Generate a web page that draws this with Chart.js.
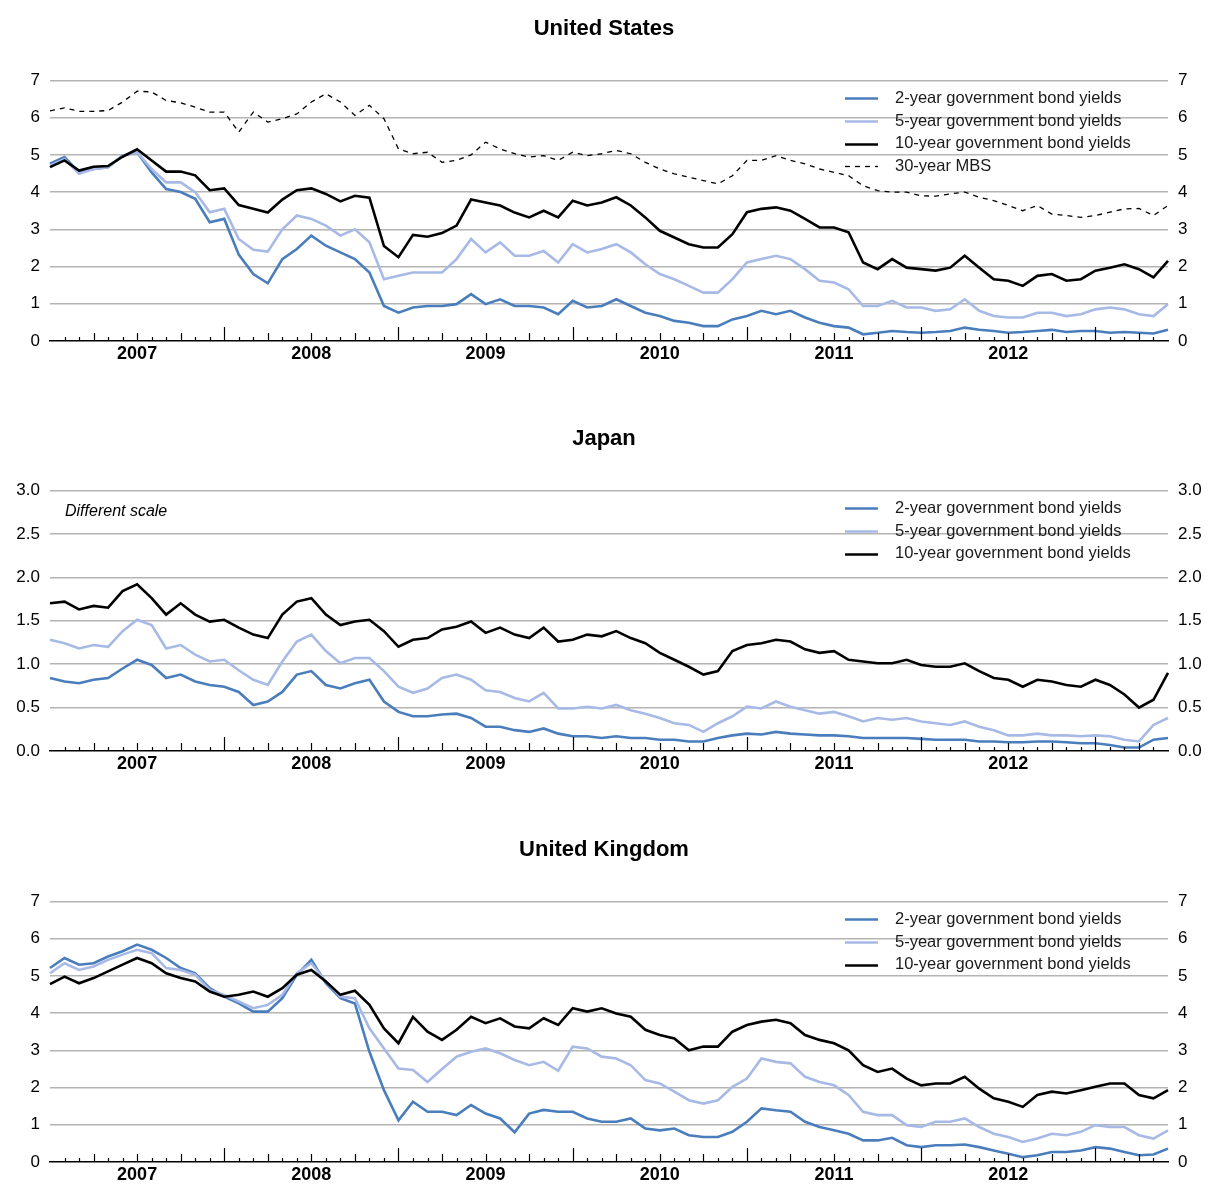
<!DOCTYPE html>
<html>
<head>
<meta charset="utf-8">
<script src="https://cdn.jsdelivr.net/npm/chart.js@4.4.1/dist/chart.umd.min.js"></script>
<style>
  html, body { margin:0; padding:0; background:#fff; overflow:hidden; }
  #wrap { position:relative; width:1208px; height:1186px; overflow:hidden; }
  .panel { position:absolute; left:0; width:1208px; height:410px; }
</style>
</head>
<body>
<div id="wrap">
  <div class="panel" style="top:0"><canvas id="us" width="1208" height="410"></canvas></div>
  <div class="panel" style="top:410px"><canvas id="jp" width="1208" height="410"></canvas></div>
  <div class="panel" style="top:821px"><canvas id="uk" width="1208" height="410"></canvas></div>
</div>
<script>
/* Government bond yields, Jan 2007 - May 2013, three panels (US / Japan / UK).
 * One point per month boundary. */
const MONTHS = [
  '2007-01','2007-02','2007-03','2007-04','2007-05','2007-06','2007-07','2007-08','2007-09','2007-10','2007-11','2007-12',
  '2008-01','2008-02','2008-03','2008-04','2008-05','2008-06','2008-07','2008-08','2008-09','2008-10','2008-11','2008-12',
  '2009-01','2009-02','2009-03','2009-04','2009-05','2009-06','2009-07','2009-08','2009-09','2009-10','2009-11','2009-12',
  '2010-01','2010-02','2010-03','2010-04','2010-05','2010-06','2010-07','2010-08','2010-09','2010-10','2010-11','2010-12',
  '2011-01','2011-02','2011-03','2011-04','2011-05','2011-06','2011-07','2011-08','2011-09','2011-10','2011-11','2011-12',
  '2012-01','2012-02','2012-03','2012-04','2012-05','2012-06','2012-07','2012-08','2012-09','2012-10','2012-11','2012-12',
  '2013-01','2013-02','2013-03','2013-04','2013-05','2013-06'
];

const LEGEND_LABELS = ['2-year government bond yields','5-year government bond yields','10-year government bond yields','30-year MBS'];

// United States
const US_2Y = [4.76,4.94,4.53,4.62,4.67,4.98,5.07,4.53,4.08,4.00,3.82,3.19,
  3.28,2.32,1.80,1.55,2.20,2.47,2.83,2.56,2.38,2.20,1.84,0.94,
  0.76,0.90,0.94,0.94,0.99,1.26,0.99,1.12,0.94,0.94,0.90,0.72,
  1.08,0.90,0.94,1.12,0.94,0.76,0.67,0.54,0.49,0.40,0.40,0.58,
  0.67,0.81,0.72,0.81,0.63,0.49,0.40,0.36,0.18,0.22,0.27,0.24,
  0.22,0.24,0.27,0.36,0.30,0.27,0.22,0.24,0.27,0.30,0.24,0.27,
  0.27,0.22,0.24,0.22,0.20,0.30];
const US_5Y = [4.71,4.89,4.49,4.62,4.67,4.98,5.07,4.62,4.26,4.26,4.00,3.46,
  3.55,2.74,2.45,2.40,3.00,3.37,3.28,3.10,2.83,3.00,2.65,1.66,
  1.75,1.84,1.84,1.84,2.20,2.74,2.38,2.65,2.29,2.29,2.42,2.11,
  2.60,2.38,2.47,2.60,2.38,2.06,1.80,1.66,1.48,1.30,1.30,1.66,
  2.11,2.20,2.29,2.20,1.93,1.62,1.57,1.39,0.94,0.94,1.08,0.90,
  0.90,0.81,0.85,1.12,0.81,0.67,0.63,0.63,0.76,0.76,0.67,0.72,
  0.85,0.90,0.85,0.72,0.67,0.99];
const US_10Y = [4.67,4.85,4.58,4.68,4.70,4.95,5.15,4.85,4.55,4.55,4.45,4.05,
  4.10,3.65,3.55,3.45,3.80,4.05,4.10,3.95,3.75,3.90,3.85,2.55,
  2.25,2.85,2.80,2.90,3.10,3.80,3.72,3.64,3.45,3.32,3.50,3.32,
  3.77,3.64,3.72,3.86,3.64,3.32,2.96,2.78,2.60,2.51,2.51,2.87,
  3.46,3.55,3.59,3.50,3.28,3.05,3.05,2.92,2.11,1.93,2.20,1.97,
  1.93,1.89,1.97,2.29,1.97,1.66,1.62,1.48,1.75,1.80,1.62,1.66,
  1.89,1.97,2.06,1.93,1.71,2.15];
const US_MBS = [6.18,6.26,6.17,6.17,6.19,6.42,6.71,6.69,6.46,6.40,6.28,6.15,
  6.15,5.61,6.15,5.88,5.97,6.10,6.42,6.64,6.42,6.06,6.33,5.97,
  5.16,5.03,5.07,4.80,4.85,5.00,5.34,5.16,5.03,4.94,4.98,4.85,
  5.07,4.98,5.03,5.12,5.03,4.80,4.62,4.49,4.40,4.31,4.22,4.44,
  4.85,4.85,4.98,4.85,4.76,4.62,4.53,4.44,4.17,4.04,4.00,4.00,
  3.90,3.89,3.95,4.00,3.86,3.77,3.64,3.50,3.64,3.41,3.37,3.32,
  3.37,3.46,3.55,3.56,3.37,3.64];

// Japan
const JP_2Y = [0.84,0.80,0.78,0.82,0.84,0.95,1.05,0.99,0.84,0.88,0.80,0.76,
  0.74,0.68,0.53,0.57,0.68,0.88,0.92,0.76,0.72,0.78,0.82,0.57,
  0.45,0.40,0.40,0.42,0.43,0.38,0.28,0.28,0.24,0.22,0.26,0.20,
  0.17,0.17,0.15,0.17,0.15,0.15,0.13,0.13,0.11,0.11,0.15,0.18,
  0.20,0.19,0.22,0.20,0.19,0.18,0.18,0.17,0.15,0.15,0.15,0.15,
  0.14,0.13,0.13,0.13,0.11,0.11,0.10,0.10,0.11,0.11,0.10,0.09,
  0.09,0.07,0.04,0.04,0.13,0.15];
const JP_5Y = [1.28,1.24,1.18,1.22,1.20,1.38,1.51,1.45,1.18,1.22,1.11,1.03,
  1.05,0.93,0.82,0.76,1.03,1.26,1.34,1.15,1.01,1.07,1.07,0.92,
  0.74,0.67,0.72,0.84,0.88,0.82,0.70,0.68,0.61,0.57,0.67,0.49,
  0.49,0.51,0.49,0.53,0.47,0.43,0.38,0.32,0.30,0.22,0.32,0.40,
  0.51,0.49,0.57,0.51,0.47,0.43,0.45,0.40,0.34,0.38,0.36,0.38,
  0.34,0.32,0.30,0.34,0.28,0.24,0.18,0.18,0.20,0.18,0.18,0.17,
  0.18,0.17,0.13,0.11,0.30,0.38];
const JP_10Y = [1.70,1.72,1.63,1.67,1.65,1.84,1.92,1.76,1.57,1.70,1.57,1.49,
  1.51,1.42,1.34,1.30,1.57,1.72,1.76,1.57,1.45,1.49,1.51,1.38,
  1.20,1.28,1.30,1.40,1.43,1.49,1.36,1.42,1.34,1.30,1.42,1.26,
  1.28,1.34,1.32,1.38,1.30,1.24,1.13,1.05,0.97,0.88,0.92,1.15,
  1.22,1.24,1.28,1.26,1.17,1.13,1.15,1.05,1.03,1.01,1.01,1.05,
  0.99,0.97,0.97,1.01,0.92,0.84,0.82,0.74,0.82,0.80,0.76,0.74,
  0.82,0.76,0.65,0.50,0.59,0.90];

// United Kingdom
const UK_2Y = [5.21,5.48,5.30,5.34,5.52,5.66,5.84,5.70,5.48,5.21,5.07,4.67,
  4.44,4.26,4.04,4.04,4.40,5.03,5.43,4.80,4.40,4.26,2.96,1.93,
  1.12,1.62,1.35,1.35,1.26,1.53,1.30,1.17,0.80,1.30,1.40,1.35,
  1.35,1.17,1.08,1.08,1.17,0.90,0.85,0.90,0.72,0.67,0.67,0.81,
  1.08,1.44,1.39,1.35,1.08,0.94,0.85,0.76,0.58,0.58,0.65,0.45,
  0.40,0.45,0.45,0.47,0.40,0.31,0.22,0.13,0.18,0.27,0.27,0.31,
  0.40,0.36,0.27,0.18,0.20,0.36];
const UK_5Y = [5.07,5.34,5.16,5.25,5.43,5.57,5.70,5.61,5.21,5.16,5.03,4.62,
  4.49,4.31,4.13,4.22,4.49,5.07,5.34,4.85,4.44,4.40,3.59,3.05,
  2.51,2.47,2.15,2.50,2.83,2.96,3.05,2.92,2.74,2.60,2.69,2.45,
  3.10,3.05,2.83,2.78,2.60,2.20,2.11,1.89,1.66,1.57,1.66,2.02,
  2.24,2.78,2.69,2.65,2.29,2.15,2.06,1.80,1.35,1.26,1.26,0.99,
  0.94,1.08,1.08,1.17,0.94,0.76,0.67,0.54,0.63,0.76,0.72,0.81,
  0.99,0.94,0.94,0.72,0.63,0.85];
const UK_10Y = [4.78,4.98,4.80,4.94,5.12,5.30,5.48,5.34,5.07,4.94,4.85,4.58,
  4.44,4.49,4.58,4.44,4.67,5.03,5.16,4.85,4.49,4.60,4.22,3.59,
  3.19,3.90,3.50,3.28,3.55,3.90,3.73,3.86,3.64,3.59,3.86,3.68,
  4.13,4.04,4.13,3.99,3.90,3.55,3.41,3.32,3.00,3.10,3.10,3.50,
  3.68,3.77,3.82,3.73,3.41,3.28,3.19,3.00,2.60,2.42,2.51,2.24,
  2.06,2.11,2.11,2.29,1.97,1.71,1.62,1.48,1.80,1.89,1.84,1.93,
  2.02,2.11,2.11,1.80,1.71,1.93];

const C_2Y = '#4a7dbb';
const C_5Y = '#a7b9e5';
const C_10Y = '#000000';
const FONT = "'Liberation Sans', Arial, Helvetica, sans-serif";
Chart.defaults.font.family = FONT;

// month / quarter / year tick marks pointing up from the axis
const monthTicks = {
  id:'monthTicks',
  afterDatasetsDraw(chart){
    const x = chart.scales.x, bottom = chart.chartArea.bottom, ctx = chart.ctx;
    ctx.save();
    ctx.strokeStyle = '#000'; ctx.lineWidth = 1.2;
    for (let i = 1; i < MONTHS.length - 1; i++){
      const mon = parseInt(MONTHS[i].slice(5), 10);
      const len = mon === 1 ? 14 : ((mon - 1) % 3 === 0 ? 8 : 4);
      const px = Math.round(x.getPixelForValue(i)) + 0.5;
      ctx.beginPath(); ctx.moveTo(px, bottom); ctx.lineTo(px, bottom - len); ctx.stroke();
    }
    ctx.restore();
  }
};

// legend inside the plot, top right, plus optional note
function insideLegend(note){
  return {
    id:'insideLegend',
    afterDraw(chart){
      const {ctx, chartArea} = chart;
      ctx.save();
      ctx.textBaseline = 'middle';
      chart.data.datasets.forEach((ds, i) => {
        const y = chartArea.top + 18 + i * 22.6;
        const x0 = chartArea.right - 323, x1 = chartArea.right - 290;
        ctx.strokeStyle = ds.borderColor;
        ctx.lineWidth = ds.borderDash.length ? 1.3 : 2.5;
        ctx.setLineDash(ds.borderDash);
        ctx.beginPath(); ctx.moveTo(x0, Math.round(y) + 0.5); ctx.lineTo(x1, Math.round(y) + 0.5); ctx.stroke();
        ctx.setLineDash([]);
        ctx.fillStyle = '#1a1a1a';
        ctx.font = '16.5px ' + FONT;
        ctx.fillText(ds.label, chartArea.right - 273, y);
      });
      if (note){
        ctx.font = 'italic 16px ' + FONT;
        ctx.fillStyle = '#000';
        ctx.fillText(note, chartArea.left + 15, chartArea.top + 21);
      }
      ctx.restore();
    }
  };
}

function panel(id, title, yMax, yStep, decimals, series, note){
  const datasets = series.map(s => ({
    label: s.label, data: s.data, borderColor: s.color,
    borderWidth: s.dash ? 1.3 : 2.6, borderDash: s.dash || [],
    pointRadius: 0, tension: 0, fill: false, order: s.order
  }));
  const yTicks = { color:'#000', font:{size:17}, padding:10, stepSize:yStep,
    callback: v => Number(v).toFixed(decimals) };
  return new Chart(document.getElementById(id), {
    type:'line',
    data:{ labels: MONTHS, datasets },
    options:{
      responsive:false, animation:false,
      layout:{ padding:{ top:0, bottom:44, left:0, right:0 } },
      plugins:{
        legend:{ display:false }, tooltip:{ enabled:false },
        title:{ display:true, text:title, color:'#000', font:{ size:22, weight:'bold' }, padding:{ top:16, bottom:38 } }
      },
      scales:{
        x:{ type:'category', grid:{ display:false, drawTicks:false }, border:{ display:true, color:'#000', width:1.5 },
            ticks:{ autoSkip:false, maxRotation:0, minRotation:0, padding:2, color:'#000',
                    font:{ size:18, weight:'bold' },
                    callback:(v, i) => MONTHS[i].slice(5) === '07' ? MONTHS[i].slice(0, 4) : '' },
            afterFit: s => { s.height = 25; } },
        y:{ position:'left', min:0, max:yMax, ticks:yTicks,
            grid:{ drawTicks:false, lineWidth:1.5,
                   color: c => (c.tick && c.tick.value === 0) ? 'rgba(0,0,0,0)' : '#b4b4b4' },
            border:{ display:false }, afterFit: s => { s.width = 50; } },
        y2:{ position:'right', min:0, max:yMax, ticks:yTicks,
             grid:{ display:false, drawTicks:false }, border:{ display:false },
             afterFit: s => { s.width = 40; } }
      }
    },
    plugins:[ monthTicks, insideLegend(note) ]
  });
}

panel('us', 'United States', 7, 1, 0, [
  { label:LEGEND_LABELS[0], data:US_2Y,  color:C_2Y,  order:2 },
  { label:LEGEND_LABELS[1], data:US_5Y,  color:C_5Y,  order:1 },
  { label:LEGEND_LABELS[2], data:US_10Y, color:C_10Y, order:0 },
  { label:LEGEND_LABELS[3], data:US_MBS, color:'#000', order:3, dash:[5,5] }
]);
panel('jp', 'Japan', 3, 0.5, 1, [
  { label:LEGEND_LABELS[0], data:JP_2Y,  color:C_2Y,  order:2 },
  { label:LEGEND_LABELS[1], data:JP_5Y,  color:C_5Y,  order:1 },
  { label:LEGEND_LABELS[2], data:JP_10Y, color:C_10Y, order:0 }
], 'Different scale');
panel('uk', 'United Kingdom', 7, 1, 0, [
  { label:LEGEND_LABELS[0], data:UK_2Y,  color:C_2Y,  order:2 },
  { label:LEGEND_LABELS[1], data:UK_5Y,  color:C_5Y,  order:1 },
  { label:LEGEND_LABELS[2], data:UK_10Y, color:C_10Y, order:0 }
]);
</script>
</body>
</html>
